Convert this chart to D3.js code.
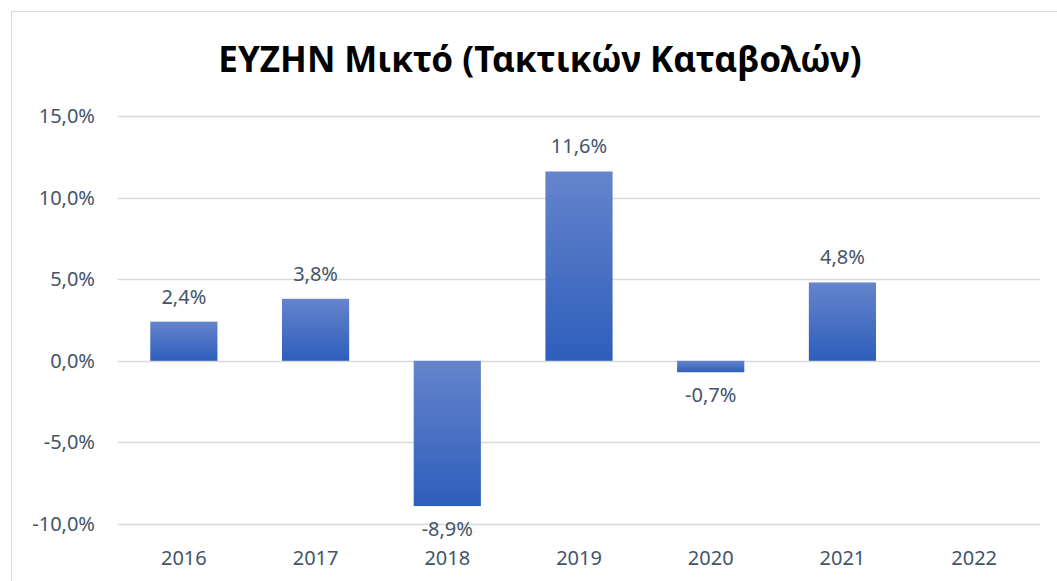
<!DOCTYPE html>
<html>
<head>
<meta charset="utf-8">
<script src="https://cdn.jsdelivr.net/npm/d3@7"></script>
<style>
  body { margin: 0; background: #fff; }
  svg { display: block; font-family: "Noto Sans", "Open Sans", sans-serif; }
</style>
</head>
<body>
<div id="chart"></div>
<script>
// Chart data
const years = ['2016', '2017', '2018', '2019', '2020', '2021', '2022'];
const returns = [2.4, 3.8, -8.9, 11.6, -0.7, 4.8, null];
const yTicks = [-10, -5, 0, 5, 10, 15];
const chartTitle = 'ΕΥΖΗΝ Μικτό (Τακτικών Καταβολών)';

const width = 1057;
const height = 581;
const margin = { top: 116, right: 17, bottom: 57, left: 118 };

// Excel-style label: comma decimal, plain hyphen for minus
const fmt = v => (v < 0 ? '-' : '') + Math.abs(v).toFixed(1).replace('.', ',') + '%';

const svg = d3.select('#chart')
  .append('svg')
  .attr('width', width)
  .attr('height', height);

// gradient for the bars
const grad = svg.append('defs').append('linearGradient')
  .attr('id', 'barGrad')
  .attr('x1', 0).attr('y1', 0).attr('x2', 0).attr('y2', 1);
grad.append('stop').attr('offset', '0%').attr('stop-color', '#6584cc');
grad.append('stop').attr('offset', '100%').attr('stop-color', '#2e5ebb');

// chart area border
svg.append('rect')
  .attr('x', 11.5)
  .attr('y', 11.5)
  .attr('width', width + 20)
  .attr('height', height + 20)
  .attr('fill', 'none')
  .attr('stroke', '#d9d9d9')
  .attr('stroke-width', 1);

const xScale = d3.scaleBand()
  .domain(years)
  .range([margin.left, width - margin.right])
  .paddingInner(0.49)
  .paddingOuter(0.245);

const yScale = d3.scaleLinear()
  .domain([-10, 15])
  .range([height - margin.bottom, margin.top]);

// gridlines
svg.append('g')
  .selectAll('line')
  .data(yTicks)
  .enter()
  .append('line')
  .attr('x1', margin.left)
  .attr('x2', width - margin.right)
  .attr('y1', d => Math.round(yScale(d)) + 0.5)
  .attr('y2', d => Math.round(yScale(d)) + 0.5)
  .attr('stroke', '#d9d9d9')
  .attr('stroke-width', 1.5);

// y axis labels
const yAxis = svg.append('g')
  .attr('transform', `translate(${margin.left - 23}, 0)`)
  .call(d3.axisLeft(yScale).tickValues(yTicks).tickFormat(fmt).tickSize(0).tickPadding(0));
yAxis.select('.domain').remove();
yAxis.selectAll('text')
  .attr('font-size', '20px')
  .attr('font-family', '"Noto Sans", sans-serif')
  .attr('fill', '#44546a');

// x axis labels
const xAxis = svg.append('g')
  .attr('transform', `translate(0, ${height - margin.bottom})`)
  .call(d3.axisBottom(xScale).tickSize(0).tickPadding(0));
xAxis.select('.domain').remove();
xAxis.selectAll('text')
  .attr('y', 41)
  .attr('dy', null)
  .attr('font-size', '20px')
  .attr('font-family', '"Noto Sans", sans-serif')
  .attr('fill', '#44546a');

const barData = years.map((y, i) => ({ year: y, value: returns[i] }))
  .filter(d => d.value !== null);

// bars
svg.selectAll('.bar')
  .data(barData)
  .enter()
  .append('rect')
  .attr('class', 'bar')
  .attr('x', d => xScale(d.year))
  .attr('width', xScale.bandwidth())
  .attr('y', d => yScale(Math.max(0, d.value)))
  .attr('height', d => Math.abs(yScale(d.value) - yScale(0)))
  .attr('fill', 'url(#barGrad)');

// data labels
svg.selectAll('.label')
  .data(barData)
  .enter()
  .append('text')
  .attr('class', 'label')
  .attr('x', d => xScale(d.year) + xScale.bandwidth() / 2)
  .attr('y', d => d.value >= 0 ? yScale(d.value) - 18 : yScale(d.value) + 30)
  .attr('text-anchor', 'middle')
  .attr('font-size', '20px')
  .attr('fill', '#44546a')
  .text(d => fmt(d.value));

// title
svg.append('text')
  .attr('x', 540)
  .attr('y', 72)
  .attr('text-anchor', 'middle')
  .attr('font-size', '35px')
  .attr('font-weight', 'bold')
  .attr('fill', '#000')
  .text(chartTitle);
</script>
</body>
</html>
